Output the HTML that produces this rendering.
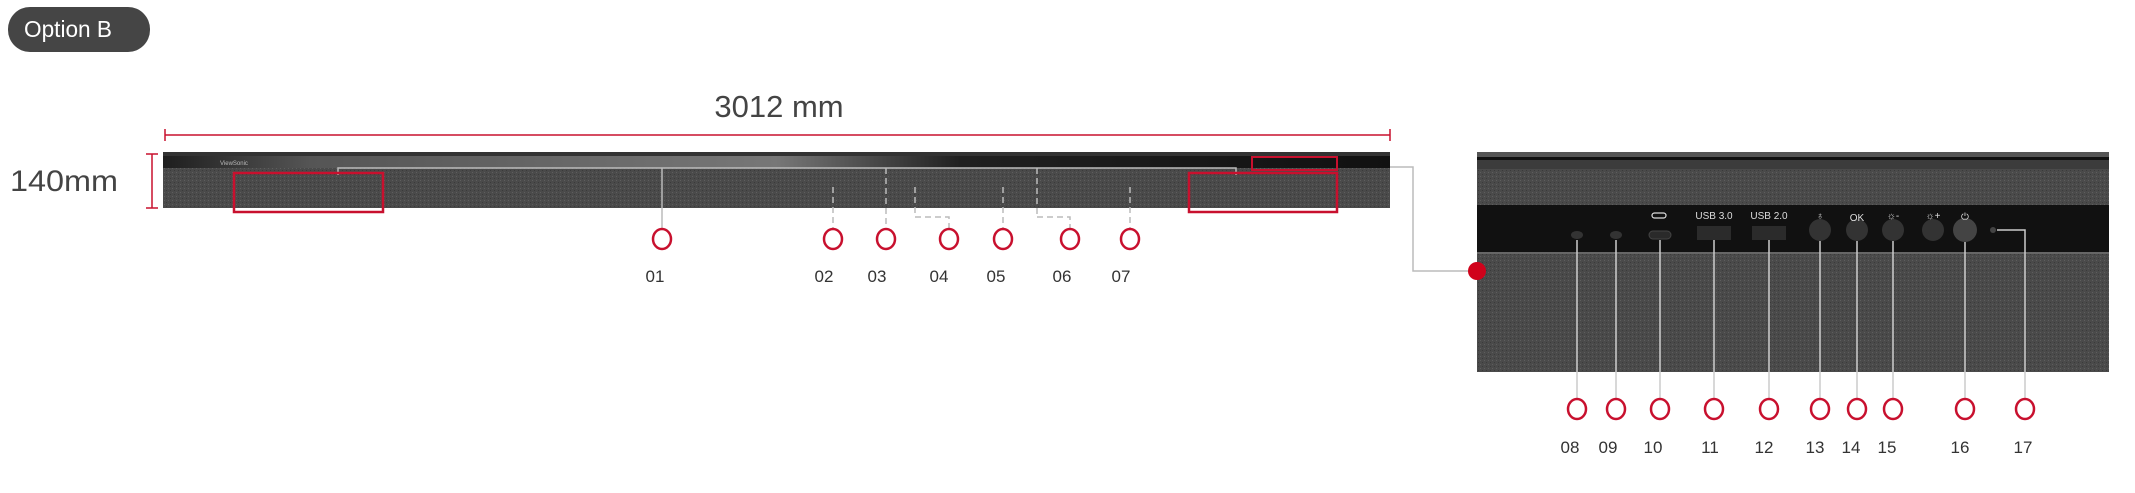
<!DOCTYPE html>
<html><head><meta charset="utf-8"><style>
html,body{margin:0;padding:0;background:#fff;width:2135px;height:493px;overflow:hidden}
svg{display:block}
text{font-family:"Liberation Sans",sans-serif}
</style></head><body>
<svg width="2135" height="493" viewBox="0 0 2135 493" xmlns="http://www.w3.org/2000/svg">
<defs>
<pattern id="fab" width="4" height="4" patternUnits="userSpaceOnUse">
<rect width="4" height="4" fill="#4a4a4a"/><rect width="1" height="1" fill="#5e5e5e"/><rect x="2" y="2" width="1" height="1" fill="#3a3a3a"/>
</pattern>
<linearGradient id="topg" x1="0" x2="1" y1="0" y2="0">
<stop offset="0" stop-color="#1e1e1e"/><stop offset="0.12" stop-color="#555"/><stop offset="0.5" stop-color="#777"/><stop offset="0.65" stop-color="#202020"/><stop offset="1" stop-color="#111"/>
</linearGradient>
</defs>
<!-- pill -->
<rect x="8" y="7" width="142" height="45" rx="22" fill="#454545"/>
<text x="24" y="37" font-size="23" fill="#fff" textLength="88" lengthAdjust="spacingAndGlyphs">Option B</text>
<!-- dimensions -->
<text x="779" y="117" font-size="31" fill="#444" text-anchor="middle">3012 mm</text>
<line x1="165" y1="135" x2="1390" y2="135" stroke="#c8102e" stroke-width="1.5"/>
<line x1="165" y1="129" x2="165" y2="141" stroke="#c8102e" stroke-width="1.5"/>
<line x1="1390" y1="129" x2="1390" y2="141" stroke="#c8102e" stroke-width="1.5"/>
<text x="10" y="191" font-size="30" fill="#444" textLength="108" lengthAdjust="spacingAndGlyphs">140mm</text>
<line x1="152" y1="154" x2="152" y2="208" stroke="#c8102e" stroke-width="1.5"/>
<line x1="146" y1="154" x2="158" y2="154" stroke="#c8102e" stroke-width="1.5"/>
<line x1="146" y1="208" x2="158" y2="208" stroke="#c8102e" stroke-width="1.5"/>
<!-- soundbar -->
<rect x="163" y="152" width="1227" height="56" fill="url(#fab)"/>
<rect x="163" y="152" width="1227" height="4" fill="#333"/>
<rect x="163" y="156" width="1227" height="12" fill="url(#topg)"/>
<text x="220" y="165" font-size="6" fill="#bbb">ViewSonic</text>
<!-- leader lines -->
<g stroke="#bbb" stroke-width="1.5" fill="none">
<polyline points="338,175 338,168 1236,168 1236,175"/>
<line x1="662" y1="168" x2="662" y2="228"/>
<line x1="886" y1="168" x2="886" y2="228" stroke-dasharray="6,4"/>
<line x1="1037" y1="168" x2="1037" y2="217" stroke-dasharray="6,4"/>
<line x1="833" y1="187" x2="833" y2="228" stroke-dasharray="6,4"/>
<polyline points="915,187 915,217 949,217 949,228" stroke-dasharray="6,4"/>
<line x1="1003" y1="187" x2="1003" y2="228" stroke-dasharray="6,4"/>
<polyline points="1037,217 1070,217 1070,228" stroke-dasharray="6,4"/>
<line x1="1130" y1="187" x2="1130" y2="228" stroke-dasharray="6,4"/>
<polyline points="1390,167 1413,167 1413,271 1477,271"/>
</g>
<g fill="none" stroke="#c8102e" stroke-width="2.5">
<rect x="234" y="173" width="149" height="39"/>
<rect x="1189" y="173" width="148" height="39"/>
<rect x="1252" y="157" width="85" height="13" stroke-width="2"/>
</g>
<g fill="#fff" stroke="#c8102e" stroke-width="2.5">
<ellipse cx="662" cy="239" rx="9" ry="10"/><ellipse cx="833" cy="239" rx="9" ry="10"/><ellipse cx="886" cy="239" rx="9" ry="10"/><ellipse cx="949" cy="239" rx="9" ry="10"/><ellipse cx="1003" cy="239" rx="9" ry="10"/><ellipse cx="1070" cy="239" rx="9" ry="10"/><ellipse cx="1130" cy="239" rx="9" ry="10"/>
</g>
<g font-size="17" fill="#333" text-anchor="middle">
<text x="655" y="282">01</text><text x="824" y="282">02</text><text x="877" y="282">03</text><text x="939" y="282">04</text><text x="996" y="282">05</text><text x="1062" y="282">06</text><text x="1121" y="282">07</text>
</g>
<!-- detail panel -->
<rect x="1477" y="152" width="632" height="220" fill="url(#fab)"/>
<rect x="1477" y="152" width="632" height="5" fill="#555"/>
<rect x="1477" y="157" width="632" height="3" fill="#111"/>
<rect x="1477" y="160" width="632" height="9" fill="#3c3c3c"/>
<rect x="1477" y="205" width="632" height="47" fill="#111"/>
<rect x="1477" y="252" width="632" height="2" fill="#666"/>
<g fill="#333">
<ellipse cx="1577" cy="235" rx="6" ry="4"/><ellipse cx="1616" cy="235" rx="6" ry="4"/>
<rect x="1649" y="231" width="22" height="8" rx="4" fill="#2a2a2a" stroke="#444"/>
<rect x="1697" y="226" width="34" height="14" fill="#2b2b2b"/>
<rect x="1752" y="226" width="34" height="14" fill="#2b2b2b"/>
<circle cx="1820" cy="230" r="11"/><circle cx="1857" cy="230" r="11"/><circle cx="1893" cy="230" r="11"/><circle cx="1933" cy="230" r="11"/><circle cx="1965" cy="230" r="12" fill="#444"/><circle cx="1993" cy="230" r="3" fill="#444"/>
</g>
<g fill="#ddd" font-size="10" text-anchor="middle">
<rect x="1652" y="213" width="14" height="5" rx="2.5" fill="none" stroke="#ddd" stroke-width="1.2"/>
<text x="1714" y="219">USB 3.0</text><text x="1769" y="219">USB 2.0</text>
<text x="1820" y="219">♁</text><text x="1857" y="221">OK</text><text x="1893" y="219">☼-</text><text x="1933" y="219">☼+</text><text x="1965" y="220">⏻</text>
</g>
<g stroke="#ccc" stroke-width="1.5" fill="none">
<line x1="1577" y1="240" x2="1577" y2="398"/><line x1="1616" y1="240" x2="1616" y2="398"/><line x1="1660" y1="240" x2="1660" y2="398"/><line x1="1714" y1="240" x2="1714" y2="398"/><line x1="1769" y1="240" x2="1769" y2="398"/><line x1="1820" y1="241" x2="1820" y2="398"/><line x1="1857" y1="241" x2="1857" y2="398"/><line x1="1893" y1="241" x2="1893" y2="398"/><line x1="1965" y1="242" x2="1965" y2="398"/>
<polyline points="1997,230 2025,230 2025,398"/>
</g>
<circle cx="1477" cy="271" r="9" fill="#d0021b"/>
<g fill="#fff" stroke="#c8102e" stroke-width="2.5">
<ellipse cx="1577" cy="409" rx="9" ry="10"/><ellipse cx="1616" cy="409" rx="9" ry="10"/><ellipse cx="1660" cy="409" rx="9" ry="10"/><ellipse cx="1714" cy="409" rx="9" ry="10"/><ellipse cx="1769" cy="409" rx="9" ry="10"/><ellipse cx="1820" cy="409" rx="9" ry="10"/><ellipse cx="1857" cy="409" rx="9" ry="10"/><ellipse cx="1893" cy="409" rx="9" ry="10"/><ellipse cx="1965" cy="409" rx="9" ry="10"/><ellipse cx="2025" cy="409" rx="9" ry="10"/>
</g>
<g font-size="17" fill="#333" text-anchor="middle">
<text x="1570" y="453">08</text><text x="1608" y="453">09</text><text x="1653" y="453">10</text><text x="1710" y="453">11</text><text x="1764" y="453">12</text><text x="1815" y="453">13</text><text x="1851" y="453">14</text><text x="1887" y="453">15</text><text x="1960" y="453">16</text><text x="2023" y="453">17</text>
</g>
</svg>
</body></html>
